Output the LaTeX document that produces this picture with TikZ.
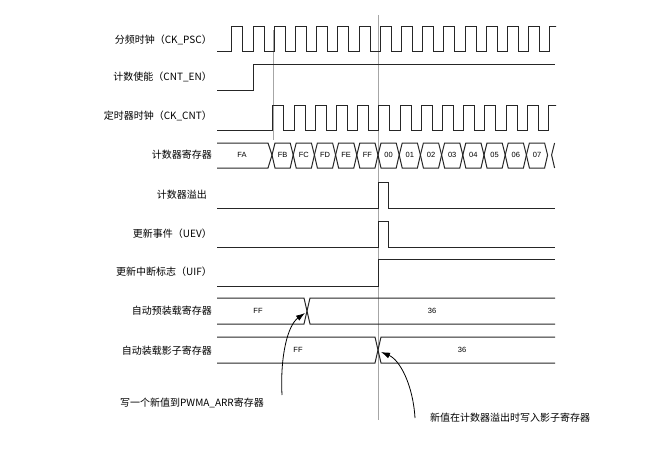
\documentclass[tikz,border=0pt]{standalone}
\usepackage{fontspec}
\setmainfont{Liberation Sans}
\newfontfamily\cjk{Noto Sans CJK SC}
\begin{document}
\begin{tikzpicture}[x=1pt,y=-1pt,
  wave/.style={line width=1pt,black!85},
  lbl/.style={anchor=east,font=\cjk\fontsize{10}{12}\selectfont,inner sep=0pt},
  val/.style={font=\fontsize{7.5}{9}\selectfont,inner sep=0pt},
  guide/.style={gray!70,line width=0.5pt},
  note/.style={font=\cjk\fontsize{10}{12}\selectfont,inner sep=0pt},
  pt/.style={-{Latex[length=9pt,width=6pt]},line width=0.8pt}]
\usetikzlibrary{arrows.meta}
\useasboundingbox (0,0) rectangle (653,452);
% labels
\node[lbl] (l1) at (212,40) {分频时钟（CK\_PSC）};
\node[lbl] (l2) at (212,77) {计数使能（CNT\_EN）};
\node[lbl] (l3) at (212,116) {定时器时钟（CK\_CNT）};
\node[lbl] (l4) at (212,155) {计数器寄存器};
\node[lbl] (l5) at (207,195) {计数器溢出};
\node[lbl] (l6) at (212,234) {更新事件（UEV）};
\node[lbl] (l7) at (212,272) {更新中断标志（UIF）};
\node[lbl] (l8) at (212,311) {自动预装载寄存器};
\node[lbl] (l9) at (212,351) {自动装载影子寄存器};
% guides
\draw[guide] (273,30) -- (273,140);
\draw[guide] (378,15) -- (378,420);
\begin{scope}
\clip (210,10) rectangle (556,140);
% CK_PSC
\draw[wave] (217,52) -- (231.8,52)
  \foreach \i in {0,...,15} { -- ++(0,-25) -- ++(11,0) -- ++(0,25) -- ++(10.2,0) } ;
% CK_CNT
\draw[wave] (217,130) -- (272.8,130)
  \foreach \i in {0,...,13} { -- ++(0,-25) -- ++(11,0) -- ++(0,25) -- ++(10.2,0) } ;
\end{scope}
% CNT_EN
\draw[wave] (217,90) -- (253,90) -- (253,65) -- (555,65);
% counter bus
\def\bt{143}\def\bb{168}
\draw[wave] (217,\bt) -- (268,\bt) -- (272,155) -- (268,\bb) -- (217,\bb);
\node[val] (fa) at (242,155) {FA};
\foreach \v [count=\k from 0] in {FB,FC,FD,FE,FF,00,01,02,03,04,05,06,07} {
  \pgfmathsetmacro\xa{272+21.2*\k}
  \pgfmathsetmacro\xb{\xa+21.2}
  \draw[wave] (\xa,155) -- (\xa+3,\bt) -- (\xb-3,\bt) -- (\xb,155) -- (\xb-3,\bb) -- (\xa+3,\bb) -- cycle;
  \node[val] (c\k) at ({\xa+10.6},155) {\v};
}
\draw[wave] (551.6,155) -- (554.6,\bt) (551.6,155) -- (554.6,\bb);
% overflow
\draw[wave] (217,208) -- (378,208) -- (378,182) -- (388,182) -- (388,208) -- (555,208);
% UEV
\draw[wave] (217,247) -- (378,247) -- (378,221) -- (388,221) -- (388,247) -- (555,247);
% UIF
\draw[wave] (217,286) -- (378,286) -- (378,259) -- (555,259);
% preload
\draw[wave] (217,298) -- (304,298) -- (307,311) -- (304,324) -- (217,324);
\draw[wave] (555,298) -- (310,298) -- (307,311) -- (310,324) -- (555,324);
\node[val] (p1) at (258,311) {FF};
\node[val] (p2) at (432,311) {36};
% shadow
\draw[wave] (217,337) -- (375,337) -- (378,350) -- (375,363) -- (217,363);
\draw[wave] (555,337) -- (381,337) -- (378,350) -- (381,363) -- (555,363);
\node[val] (s1) at (298,350) {FF};
\node[val] (s2) at (462,350) {36};
% notes
\node[note] (n1) at (192,403) {写一个新值到PWMA\_ARR寄存器};
\node[note] (n2) at (510,418) {新值在计数器溢出时写入影子寄存器};
\coordinate (a1s) at (282,395);
\coordinate (a1e) at (305,313);
\coordinate (a2s) at (415,418);
\coordinate (a2e) at (381,352);
\draw[pt] (a1s) .. controls (280,355) and (288,325) .. (a1e);
\draw[pt] (a2s) .. controls (413,385) and (400,360) .. (a2e);
\end{tikzpicture}
\end{document}
